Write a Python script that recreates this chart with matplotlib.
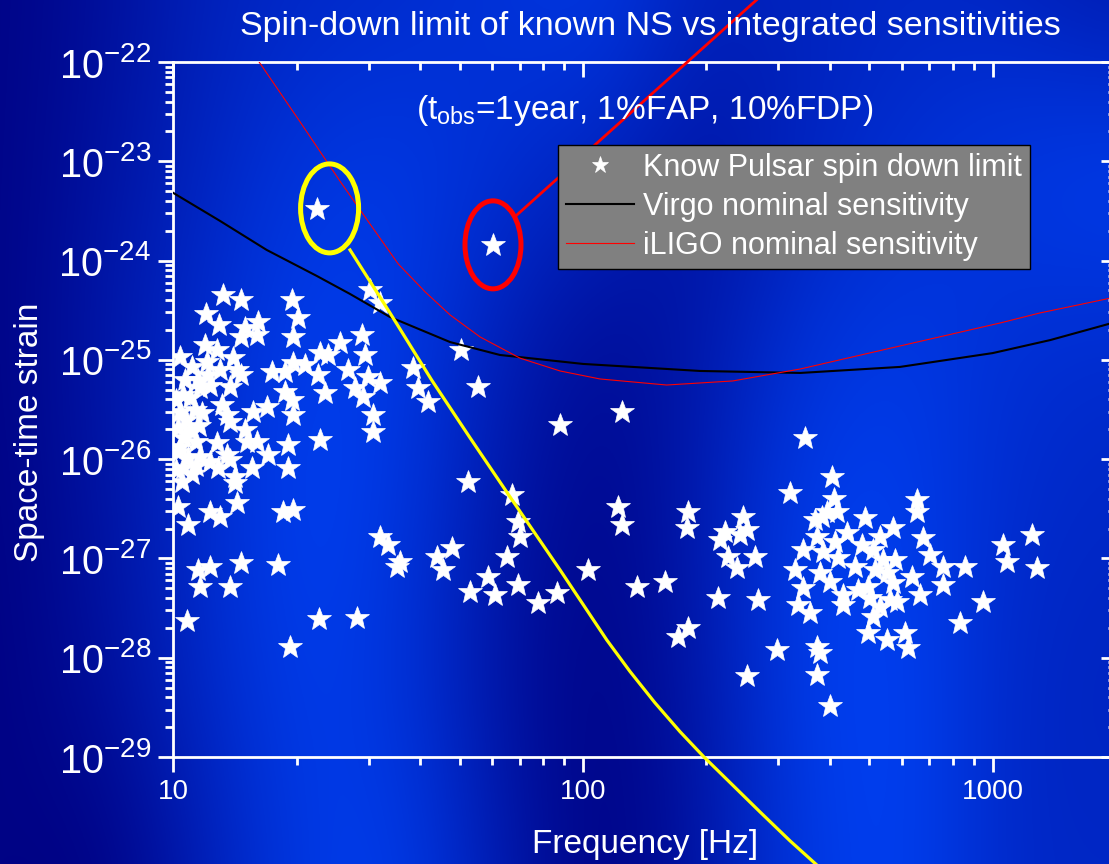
import numpy as np
import matplotlib
matplotlib.use("Agg")
import matplotlib.pyplot as plt
from matplotlib.patches import Ellipse
from matplotlib.lines import Line2D
from matplotlib.transforms import ScaledTranslation
from matplotlib.ticker import LogLocator, FixedLocator, FuncFormatter, NullFormatter
from matplotlib.colors import LinearSegmentedColormap

plt.rcParams['font.family'] = ['Liberation Sans', 'DejaVu Sans']
plt.rcParams['mathtext.fontset'] = 'custom'
plt.rcParams['mathtext.rm'] = 'Liberation Sans'
plt.rcParams['mathtext.it'] = 'Liberation Sans:italic'
plt.rcParams['mathtext.bf'] = 'Liberation Sans:bold'

# ---------------------------------------------------------------- data
# spin-down upper limits of known pulsars: GW frequency [Hz], strain
pulsar_freq = [
    12.0, 12.9, 15.0, 16.1, 14.6, 16.0, 19.6, 20.2, 19.45, 14.6,
    11.95, 12.76, 10.38, 11.09, 12.06, 14.01, 14.28, 13.0, 12.17, 10.68,
    11.62, 13.75, 14.6, 17.39, 18.74, 19.6, 20.97, 22.8, 23.9, 25.5,
    28.8, 29.4, 26.7, 29.9, 31.96, 27.8, 29.1, 30.8, 30.8, 18.74,
    19.45, 19.6, 16.9, 15.68, 13.13, 13.5, 13.75, 11.73, 10.98, 22.8,
    19.09, 19.09, 15.0, 15.11, 16.0, 17.06, 15.54, 14.15, 14.15, 12.76,
    13.5, 13.75, 12.29, 12.88, 10.48, 14.28, 12.29, 13.0, 10.88, 10.28,
    18.56, 19.6, 31.96, 33.5, 35.1, 11.51, 12.29, 14.6, 18.05, 11.62,
    13.75, 13.24, 30.2, 31.96, 38.5, 39.6, 41.9, 47.9, 12.29, 11.51,
    11.62, 10.58, 10.38, 22.6, 23.5, 10.15, 10.38, 10.74, 10.27, 10.98,
    10.62, 11.36, 10.27, 10.86, 11.36, 10.15, 11.1, 11.55, 10.56, 11.3,
    10.78, 19.27, 22.7, 28.1, 55.5, 50.4, 52.5, 67.0, 69.5, 70.2,
    65.1, 44.0, 45.6, 35.8, 58.7, 53.0, 61.0, 69.5, 77.8, 86.3,
    103.0, 87.9, 124.3, 122.0, 124.3, 135.3, 158.5, 180.7, 179.1, 213.9,
    267.9, 180.7, 170.9, 320.1, 216.0, 222.2, 246.2, 241.7, 251.0, 226.3,
    237.3, 263.0, 329.2, 335.4, 348.3, 406.1, 410.7, 297.0, 251.8, 371.9,
    378.8, 371.9, 400.9, 358.2, 344.9, 344.9, 371.9, 385.9, 412.3, 382.4,
    416.2, 393.3, 368.4, 440.1, 420.0, 378.8, 400.9, 431.8, 431.8, 487.8,
    511.1, 461.2, 496.8, 511.1, 496.8, 551.1, 530.8, 572.0, 540.8, 551.1,
    572.0, 561.5, 530.8, 583.1, 610.8, 622.3, 652.4, 652.4, 677.0, 634.3,
    664.5, 703.1, 757.7, 757.7, 855.8, 948.5, 832.1, 1061.5, 1082.0, 1245.0,
    1281.0, 479.8, 516.0, 577.5, 501.9, 469.1,
]
pulsar_h = [
    2.9e-25, 2.24e-25, 2.08e-25, 2.43e-25, 1.71e-25, 1.78e-25, 1.69e-25, 2.62e-25, 4.01e-25, 4.0e-25,
    1.41e-25, 1.26e-25, 1.08e-25, 8.55e-26, 9.6e-26, 1.04e-25, 7.91e-26, 7.9e-26, 7.05e-26, 6.28e-26,
    5.18e-26, 5.37e-26, 7.05e-26, 7.6e-26, 7.6e-26, 9.25e-26, 8.89e-26, 1.16e-25, 1.12e-25, 1.47e-25,
    1.78e-25, 1.12e-25, 7.9e-26, 6.78e-26, 5.81e-26, 5.18e-26, 4.26e-26, 2.79e-26, 1.89e-26, 4.79e-26,
    3.94e-26, 2.79e-26, 3.38e-26, 3.01e-26, 3.52e-26, 2.79e-26, 2.39e-26, 2.9e-26, 4.1e-26, 1.56e-26,
    1.39e-26, 8.09e-27, 1.97e-26, 1.5e-26, 1.5e-26, 1.1e-26, 8.09e-27, 6.67e-27, 5.71e-27, 1.45e-26,
    1.1e-26, 9.8e-27, 9.44e-27, 8.09e-27, 5.93e-27, 3.6e-27, 2.96e-27, 2.64e-27, 2.17e-27, 3.33e-27,
    2.96e-27, 3.08e-27, 1.66e-27, 1.37e-27, 8.26e-28, 7.66e-28, 8.26e-28, 8.95e-28, 8.61e-28, 5.2e-28,
    5.2e-28, 4.51e-25, 5.06e-25, 3.72e-25, 8.22e-26, 5.18e-26, 3.79e-26, 1.27e-27, 5.46e-26, 6.28e-26,
    1.06e-26, 8.09e-27, 1.34e-26, 7.05e-26, 4.61e-26, 3.94e-26, 2.99e-26, 2.48e-26, 2.06e-26, 1.97e-26,
    1.64e-26, 1.49e-26, 1.18e-26, 1.03e-26, 8.55e-27, 7.78e-27, 7.1e-27, 2.16e-26, 4.43e-26, 3.13e-26,
    2.37e-28, 1.28e-28, 2.46e-28, 2.5e-28, 5.37e-26, 1.26e-25, 5.93e-27, 4.36e-27, 2.35e-27, 1.66e-27,
    1.04e-27, 1.04e-27, 7.66e-28, 9.29e-28, 6.56e-28, 4.63e-28, 4.29e-28, 5.41e-28, 3.54e-28, 4.47e-28,
    7.66e-28, 2.21e-26, 3.01e-26, 3.33e-27, 2.17e-27, 5.2e-28, 5.83e-28, 2.96e-27, 2.01e-27, 3.97e-28,
    3.82e-28, 1.98e-28, 1.63e-28, 4.54e-27, 1.53e-27, 1.86e-27, 2.64e-27, 1.73e-27, 1.94e-27, 1.04e-27,
    7.96e-28, 1.04e-27, 7.66e-28, 3.4e-28, 1.64e-26, 6.67e-27, 3.94e-27, 1.2e-28, 6.56e-29, 1.29e-28,
    1.11e-28, 6.71e-29, 3.27e-29, 2.81e-28, 5.01e-28, 1.22e-27, 1.66e-27, 1.17e-27, 1.48e-27, 2.64e-27,
    2.96e-27, 2.96e-27, 2.44e-27, 1.79e-27, 1.0e-27, 7.1e-28, 5.83e-28, 4.29e-28, 3.4e-28, 2.54e-27,
    1.22e-27, 8.26e-28, 5.2e-28, 2.59e-28, 1.77e-28, 1.51e-28, 1.66e-27, 2.01e-27, 9.66e-28, 7.1e-28,
    5.62e-28, 3.82e-28, 3.27e-28, 3.67e-28, 1.77e-28, 1.25e-28, 3.88e-27, 2.96e-27, 1.6e-27, 6.56e-28,
    4.29e-28, 1.08e-27, 8.26e-28, 5.41e-28, 8.26e-28, 3.67e-28, 2.22e-28, 1.37e-27, 9.29e-28, 1.73e-27,
    7.96e-28, 1.37e-27, 7.66e-28, 9.66e-28, 4.0e-28, 4.82e-28,
]

# the two highlighted pulsars
vela_freq, vela_h = 22.4, 3.3e-24
crab_freq, crab_h = 60.3, 1.44e-24

# detector sensitivity curves (1 year integration)
virgo_freq = [10.0, 13.0, 16.9, 22.4, 27.0, 33.8, 47.4, 62.7, 100.0, 193.0,
              339.0, 594.0, 1000.0, 1380.0, 2000.0]
virgo_h = [4.8e-24, 2.51e-24, 1.28e-24, 7.0e-25, 4.61e-25, 2.7e-25, 1.51e-25, 1.12e-25,
           9.1e-26, 7.73e-26, 7.38e-26, 8.49e-26, 1.17e-25, 1.58e-25, 2.41e-25]
ligo_freq = [14.55, 16.2, 20.4, 25.5, 30.2, 35.4, 41.2, 47.4, 56.1, 70.2,
             87.9, 110.0, 160.0, 232.0, 339.0, 594.0, 1042.0, 1305.0, 2000.0]
ligo_h = [1.91e-22, 1.0e-22, 2.49e-23, 6.34e-24, 2.34e-24, 9.25e-25, 4.83e-25, 2.83e-25,
          1.7e-25, 1.04e-25, 7.73e-26, 6.42e-26, 5.58e-26, 6.13e-26, 8.09e-26, 1.38e-25,
          2.35e-25, 2.97e-25, 4.3e-25]

# spin-down limit curve running from the Vela pulsar
vela_curve_freq = [27.0, 33.8, 42.7, 53.0, 66.3, 87.9, 114.3, 130.2, 149.9, 172.5,
                   197.4, 270.4, 320.2, 379.0]
vela_curve_h = [1.28e-24, 2.97e-25, 6.28e-26, 1.64e-26, 4.19e-27, 7.66e-28, 1.51e-28,
                7.28e-29, 3.51e-29, 1.8e-29, 1.0e-29, 2.8e-30, 1.43e-30, 7.64e-31]

y_exponents = [-29, -28, -27, -26, -25, -24, -23, -22]
x_ticks = [10, 100, 1000]

# ---------------------------------------------------------------- figure
W, H = 1109, 864
fig = plt.figure(figsize=(W / 100, H / 100), dpi=100)

# banded blue backdrop
shade = np.array([
    [0.05, 0.20, 0.45, 0.55, 0.60, 0.70, 0.80, 0.45, 0.50, 0.55, 0.50, 0.35],
    [0.05, 0.25, 0.50, 0.75, 0.80, 0.65, 0.50, 0.25, 0.50, 0.65, 0.80, 0.90],
    [0.05, 0.30, 0.60, 0.85, 0.80, 0.40, 0.15, 0.35, 0.70, 0.80, 0.65, 0.60],
    [0.03, 0.25, 0.60, 0.90, 0.75, 0.30, 0.08, 0.40, 0.85, 0.85, 0.60, 0.55],
    [0.02, 0.20, 0.55, 0.85, 0.70, 0.25, 0.03, 0.35, 0.85, 0.90, 0.55, 0.50],
    [0.05, 0.00, 0.40, 0.80, 0.85, 0.35, 0.00, 0.30, 0.80, 0.90, 0.55, 0.55],
])
blues = LinearSegmentedColormap.from_list('bands', ['#000080', '#0024c0', '#0048ff'])
bg = fig.add_axes([0, 0, 1, 1], zorder=0)
nr, nc = shade.shape
dx, dy = W / (nc - 1), H / (nr - 1)
bg.imshow(shade, cmap=blues, vmin=0, vmax=1, interpolation='bicubic', aspect='auto',
          extent=(-dx / 2, W + dx / 2, H + dy / 2, -dy / 2))
bg.set_xlim(0, W)
bg.set_ylim(H, 0)
bg.axis('off')

# main log-log axes (right frame edge sits just past the canvas)
left, right, top, bottom = 173.3, 1116.0, 62.0, 757.0
ax = fig.add_axes([left / W, 1 - bottom / H, (right - left) / W, (bottom - top) / H], zorder=1)
ax.set_facecolor('none')
ax.set_xscale('log')
ax.set_yscale('log')
ax.set_xlim(10, 2000)
ax.set_ylim(1e-29, 1e-22)

for side in ('top', 'right'):
    ax.spines[side].set_visible(False)
for side in ('left', 'bottom'):
    ax.spines[side].set_color('white')
    ax.spines[side].set_linewidth(2)

ax.tick_params(which='both', colors='white', width=2, direction='out')
ax.tick_params(which='major', length=11)
ax.tick_params(which='minor', length=5.8)
ax.tick_params(axis='y', which='major', labelsize=28.5, pad=5)
ax.tick_params(axis='x', which='major', labelsize=20, pad=5)

ax.yaxis.set_major_locator(FixedLocator([10.0 ** e for e in y_exponents]))
ax.yaxis.set_major_formatter(FuncFormatter(
    lambda v, p: r'$\mathregular{10^{%d}}$' % int(round(np.log10(v)))))
ax.yaxis.set_minor_locator(LogLocator(base=10, subs=np.arange(2, 10), numticks=30))
ax.yaxis.set_minor_formatter(NullFormatter())
ax.xaxis.set_major_locator(FixedLocator(x_ticks))
ax.xaxis.set_major_formatter(FuncFormatter(lambda v, p: '%d' % round(v)))
ax.xaxis.set_minor_locator(LogLocator(base=10, subs=np.arange(2, 10), numticks=30))
ax.xaxis.set_minor_formatter(NullFormatter())

# mirrored frame with inward ticks
sec_top = ax.secondary_xaxis('top')
sec_right = ax.secondary_yaxis('right')
for sec, axis in ((sec_top, sec_top.xaxis), (sec_right, sec_right.yaxis)):
    for sp in sec.spines.values():
        sp.set_color('white')
        sp.set_linewidth(2)
    sec.tick_params(which='both', colors='white', width=2, direction='in',
                    labeltop=False, labelright=False)
    sec.tick_params(which='major', length=11)
    sec.tick_params(which='minor', length=5.8)
    axis.set_minor_locator(LogLocator(base=10, subs=np.arange(2, 10), numticks=30))
    axis.set_minor_formatter(NullFormatter())
sec_top.xaxis.set_major_locator(FixedLocator(x_ticks))
sec_top.xaxis.set_major_formatter(NullFormatter())
sec_right.yaxis.set_major_locator(FixedLocator([10.0 ** e for e in y_exponents]))
sec_right.yaxis.set_major_formatter(NullFormatter())

# pulsars
all_freq = pulsar_freq + [vela_freq, crab_freq]
all_h = pulsar_h + [vela_h, crab_h]
ax.plot(all_freq, all_h, linestyle='none', marker='*', ms=18, color='white',
        mec='white', mew=0.5, zorder=2, label='Know Pulsar spin down limit')

# sensitivity curves
ax.plot(virgo_freq, virgo_h, color='black', lw=1.5, zorder=3,
        label='Virgo nominal sensitivity')
ax.plot(ligo_freq, ligo_h, color='red', lw=0.8, zorder=3,
        label='iLIGO nominal sensitivity')

# Vela spin-down curve (continues below the frame)
ax.plot(vela_curve_freq, vela_curve_h, color='yellow', lw=2.3, zorder=3, clip_on=False)

# highlight rings around Vela and Crab, sized in inches around the data point
vela_anchor = fig.dpi_scale_trans + ScaledTranslation(vela_freq, vela_h, ax.transData)
crab_anchor = fig.dpi_scale_trans + ScaledTranslation(crab_freq, crab_h, ax.transData)
ax.add_patch(Ellipse((0.128, 0.007), 0.58, 0.89, transform=vela_anchor, fill=False,
                     ec='yellow', lw=3.6, zorder=4, clip_on=False))
ax.add_patch(Ellipse((0.0, 0.0), 0.56, 0.88, transform=crab_anchor, fill=False,
                     ec='red', lw=3.6, zorder=4, clip_on=False))
ax.add_line(Line2D([0.24, 2.77], [0.30, 2.57], transform=crab_anchor, color='red',
                   lw=2, zorder=4, clip_on=False))

leg = ax.legend(loc='upper left', bbox_to_anchor=(0.408, 0.8806), borderaxespad=0,
                frameon=True, fancybox=False, facecolor='#808080', edgecolor='black',
                framealpha=1, fontsize=22, labelcolor='white', handlelength=2.25,
                handletextpad=0.3, borderpad=0.25, labelspacing=0.3, markerscale=0.7)
leg.get_frame().set_linewidth(1)
leg.set_zorder(6)

# texts
fig.text(650 / W, 1 - 27 / H, 'Spin-down limit of known NS vs integrated sensitivities',
         color='white', fontsize=24.5, ha='center', va='center', zorder=5)
fig.text(645 / W, 1 - 110 / H, r'(t$_\mathregular{obs}$=1year, 1%FAP, 10%FDP)',
         color='white', fontsize=24, ha='center', va='center', zorder=5)
fig.text(30 / W, 1 - 432 / H, 'Space-time strain', color='white', fontsize=24,
         rotation=90, ha='center', va='center', zorder=5)
fig.text(645 / W, 1 - 845 / H, 'Frequency [Hz]', color='white', fontsize=24,
         ha='center', va='center', zorder=5)

fig.savefig('out.png', dpi=100)
